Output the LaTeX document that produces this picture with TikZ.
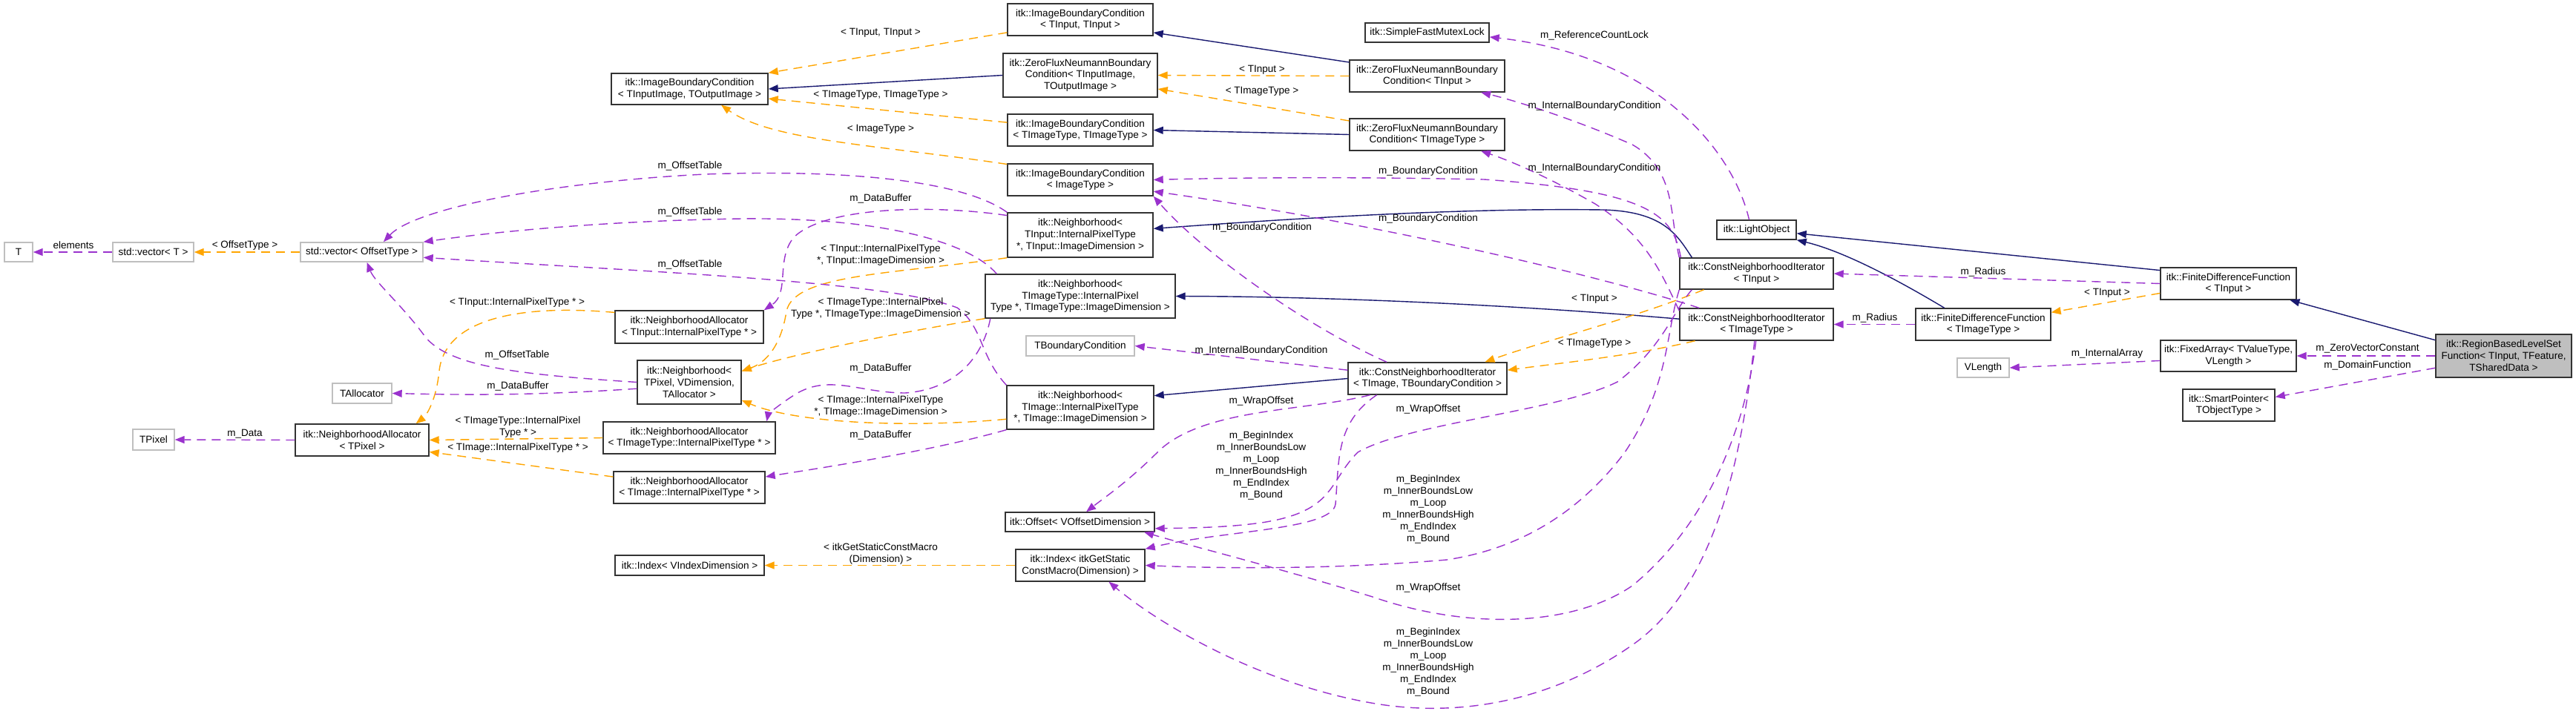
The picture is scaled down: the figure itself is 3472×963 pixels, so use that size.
\documentclass[tikz,border=0pt]{standalone}
\usepackage{fontspec}
\setmainfont{Liberation Sans}
\usetikzlibrary{arrows.meta}
\definecolor{inhcol}{HTML}{191970}
\definecolor{usecol}{HTML}{9A32CD}
\definecolor{tmplcol}{HTML}{FFA500}
\definecolor{boxgray}{HTML}{BFBFBF}
\newcommand{\dxfont}{\fontsize{7.7}{9.1}\selectfont}
\newcommand{\idxmembers}{m\_BeginIndex\\m\_InnerBoundsLow\\m\_Loop\\m\_InnerBoundsHigh\\m\_EndIndex\\m\_Bound}
\tikzset{
  wd/.style={minimum width=#1*0.02cm},
  ht/.style={minimum height=#1*0.02cm},
  cls/.style={draw=black!80, fill=white, line width=0.8pt, align=center, inner sep=1.5pt, font=\dxfont},
  ghost/.style={cls, draw=boxgray},
  mainbox/.style={cls, fill=boxgray},
  lab/.style={align=center, inner sep=0pt, font=\dxfont},
  conn/.style={line width=0.8pt, -{Triangle[length=0.26cm,width=0.2cm]}},
  inhln/.style={conn, draw=inhcol},
  useln/.style={conn, draw=usecol, dash pattern=on 0.24cm off 0.16cm},
  tmplln/.style={conn, draw=tmplcol, dash pattern=on 0.24cm off 0.16cm},
}
\begin{document}
\begin{tikzpicture}[x=0.02cm,y=-0.02cm]
\useasboundingbox (0,0) rectangle (3472,963);

% left part
\node[ghost, wd=38, ht=26] (tT) at (25,340) {T};
\node[ghost, wd=109, ht=26] (vecT) at (206.5,340) {std::vector< T >};
\node[ghost, wd=165, ht=26] (vecO) at (487.5,340) {std::vector< OffsetType >};
\node[ghost, wd=80, ht=27] (talloc) at (488,530.5) {TAllocator};
\node[ghost, wd=56, ht=28] (tpix) at (207,593) {TPixel};
\node[cls, wd=180, ht=43] (naP) at (488,593.5) {itk::NeighborhoodAllocator\\< TPixel >};
\node[cls, wd=211, ht=42] (ibcIO) at (929.5,120) {itk::ImageBoundaryCondition\\< TInputImage, TOutputImage >};
\node[cls, wd=200, ht=44] (naIn) at (929,441) {itk::NeighborhoodAllocator\\< TInput::InternalPixelType * >};
\node[cls, wd=140, ht=59] (nbP) at (929,515.5) {itk::Neighborhood<\\ TPixel, VDimension,\\ TAllocator >};
\node[cls, wd=232, ht=43] (naTy) at (929,590.5) {itk::NeighborhoodAllocator\\< TImageType::InternalPixelType * >};
\node[cls, wd=204, ht=43] (naIm) at (929,657.5) {itk::NeighborhoodAllocator\\< TImage::InternalPixelType * >};
\node[cls, wd=201, ht=27] (idxV) at (929.5,762.5) {itk::Index< VIndexDimension >};

% middle column
\node[cls, wd=196, ht=43] (ibcTT) at (1456,26.5) {itk::ImageBoundaryCondition\\< TInput, TInput >};
\node[cls, wd=208, ht=59] (zfnIO) at (1456,101.5) {itk::ZeroFluxNeumannBoundary\\Condition< TInputImage,\\ TOutputImage >};
\node[cls, wd=196, ht=43] (ibcTTy) at (1456,175.5) {itk::ImageBoundaryCondition\\< TImageType, TImageType >};
\node[cls, wd=196, ht=43] (ibcI) at (1456,242.5) {itk::ImageBoundaryCondition\\< ImageType >};
\node[cls, wd=196, ht=60] (nbIn) at (1456,317) {itk::Neighborhood<\\ TInput::InternalPixelType\\ *, TInput::ImageDimension >};
\node[cls, wd=256, ht=59] (nbTy) at (1456,399.5) {itk::Neighborhood<\\ TImageType::InternalPixel\\Type *, TImageType::ImageDimension >};
\node[ghost, wd=146, ht=27] (tbc) at (1456,466.5) {TBoundaryCondition};
\node[cls, wd=198, ht=59] (nbIm) at (1456,549.5) {itk::Neighborhood<\\ TImage::InternalPixelType\\ *, TImage::ImageDimension >};
\node[cls, wd=201, ht=26] (off) at (1455.5,704) {itk::Offset< VOffsetDimension >};
\node[cls, wd=174, ht=43] (idxM) at (1456,762.5) {itk::Index< itkGetStatic\\ConstMacro(Dimension) >};

% right part
\node[cls, wd=167, ht=26] (mutex) at (1923.5,44) {itk::SimpleFastMutexLock};
\node[cls, wd=209, ht=43] (zfnT) at (1923.5,102.5) {itk::ZeroFluxNeumannBoundary\\Condition< TInput >};
\node[cls, wd=209, ht=43] (zfnTy) at (1923.5,181.5) {itk::ZeroFluxNeumannBoundary\\Condition< TImageType >};
\node[cls, wd=214, ht=43] (cniIB) at (1924,510.5) {itk::ConstNeighborhoodIterator\\< TImage, TBoundaryCondition >};
\node[cls, wd=107, ht=26] (light) at (2367.5,310) {itk::LightObject};
\node[cls, wd=207, ht=42] (cniIn) at (2367.5,369) {itk::ConstNeighborhoodIterator\\< TInput >};
\node[cls, wd=207, ht=43] (cniTy) at (2367.5,437.5) {itk::ConstNeighborhoodIterator\\< TImageType >};
\node[cls, wd=182, ht=43] (fdfTy) at (2673,437.5) {itk::FiniteDifferenceFunction\\< TImageType >};
\node[ghost, wd=70, ht=26] (vlen) at (2673,496) {VLength};
\node[cls, wd=183, ht=43] (fdfIn) at (3003.5,382.5) {itk::FiniteDifferenceFunction\\< TInput >};
\node[cls, wd=183, ht=42] (farr) at (3003.5,480) {itk::FixedArray< TValueType,\\ VLength >};
\node[cls, wd=124, ht=43] (sptr) at (3004,546.5) {itk::SmartPointer<\\ TObjectType >};
\node[mainbox, wd=183, ht=58] (rbl) at (3374.5,480) {itk::RegionBasedLevelSet\\Function< TInput, TFeature,\\ TSharedData >};

% inheritance
\draw[inhln] (zfnIO.west) -- (ibcIO.east);
\draw[inhln] (zfnT.170) -- (ibcTT.-10);
\draw[inhln] (zfnTy.west) -- (ibcTTy.east);
\draw[inhln] (cniIn.166) .. controls (2262,320) and (2245,285) .. (2160,283) .. controls (1950,280) and (1700,298) .. (nbIn.5);
\draw[inhln] (cniTy.176) .. controls (2050,412) and (1800,400) .. (nbTy.east);
\draw[inhln] (cniIB.west) -- (nbIm.9);
\draw[inhln] (fdfIn.169) -- (light.-5);
\draw[inhln] (fdfTy.157) .. controls (2570,385) and (2490,340) .. (light.south east);
\draw[inhln] (rbl.167) -- (fdfIn.-15);

% template instances
\draw[tmplln] (ibcTT.190) -- (ibcIO.north east);
\draw[tmplln] (ibcTTy.174) -- (ibcIO.-7);
\draw[tmplln] (ibcI.168) .. controls (1180,195) and (1040,190) .. (ibcIO.-27);
\draw[tmplln] (zfnT.west) -- (zfnIO.east);
\draw[tmplln] (zfnTy.170) -- (zfnIO.-10);
\draw[tmplln] (nbIn.south west) .. controls (1200,370) and (1070,370) .. (1060,420) .. controls (1052,470) and (1030,490) .. (nbP.12);
\draw[tmplln] (nbTy.south west) .. controls (1200,450) and (1060,480) .. (nbP.12);
\draw[tmplln] (nbIm.189) .. controls (1220,578) and (1070,570) .. (nbP.-19);
\draw[tmplln] (naIn.169) .. controls (700,410) and (600,430) .. (592,500) .. controls (588,540) and (575,560) .. (naP.17);
\draw[tmplln] (naTy.west) -- (naP.east);
\draw[tmplln] (naIm.172) -- (naP.-10);
\draw[tmplln] (vecO.west) -- (vecT.east);
\draw[tmplln] (idxM.west) -- (idxV.east);
\draw[tmplln] (cniIn.-163) .. controls (2200,430) and (2080,460) .. (cniIB.16);
\draw[tmplln] (cniTy.-165) .. controls (2200,480) and (2100,490) .. (cniIB.6);
\draw[tmplln] (fdfIn.188) -- (fdfTy.10);

% members
\draw[useln] (vecT.west) -- (tT.east);
\draw[useln] (naP.west) -- (tpix.east);
\draw[useln] (nbP.west) .. controls (700,505) and (600,495) .. (570,450) .. controls (540,410) and (505,380) .. (vecO.-63);
\draw[useln] (nbP.187) .. controls (700,535) and (600,532) .. (talloc.east);
\draw[useln] (nbIn.north west) .. controls (1300,245) and (1150,228) .. (950,235) .. controls (750,245) and (560,280) .. (vecO.25);
\draw[useln] (nbTy.165) .. controls (1310,330) and (1200,293) .. (1000,295) .. controls (800,298) and (650,315) .. (vecO.north east);
\draw[useln] (nbIm.north west) .. controls (1320,480) and (1325,440) .. (1290,415) .. controls (1200,380) and (900,368) .. (vecO.-5);
\draw[useln] (nbIn.165) .. controls (1250,275) and (1110,280) .. (1070,320) .. controls (1045,350) and (1065,395) .. (naIn.north east);
\draw[useln] (nbTy.194) .. controls (1325,480) and (1290,525) .. (1220,530) .. controls (1160,530) and (1120,505) .. (1075,530) .. controls (1050,545) and (1035,560) .. (naTy.12);
\draw[useln] (nbIm.south west) .. controls (1250,610) and (1100,632) .. (naIm.8);
\draw[useln] (light.126) .. controls (2335,200) and (2230,75) .. (mutex.-4);
\draw[useln] (cniIn.north west) .. controls (2250,290) and (2260,230) .. (2200,195) .. controls (2120,160) and (2040,135) .. (zfnT.-17);
\draw[useln] (cniTy.170) .. controls (2240,370) and (2220,320) .. (2150,275) .. controls (2080,235) and (2030,215) .. (zfnTy.-17);
\draw[useln] (cniIn.168) .. controls (2255,290) and (2225,258) .. (2000,242) .. controls (1800,238) and (1650,240) .. (ibcI.east);
\draw[useln] (cniTy.164) .. controls (2150,370) and (1850,300) .. (ibcI.-9);
\draw[useln] (cniIB.158) .. controls (1760,440) and (1620,340) .. (ibcI.south east);
\draw[useln] (cniIB.174) -- (tbc.east);
\draw[useln] (cniIB.196) .. controls (1760,555) and (1620,550) .. (1560,610) .. controls (1520,650) and (1490,670) .. (off.58);
\draw[useln] (cniIB.198) .. controls (1800,570) and (1805,620) .. (1800,680) .. controls (1795,715) and (1650,715) .. (idxM.north east);
\draw[useln] (cniIn.-166) .. controls (2255,420) and (2240,470) .. (2180,515) .. controls (2100,555) and (1900,570) .. (1830,610) .. controls (1790,650) and (1800,690) .. (1700,705) .. controls (1650,712) and (1600,712) .. (off.-5);
\draw[useln] (cniIn.south west) .. controls (2245,450) and (2250,520) .. (2190,610) .. controls (2130,690) and (2050,740) .. (1950,755) .. controls (1800,768) and (1650,767) .. (idxM.east);
\draw[useln] (cniTy.-92) .. controls (2355,560) and (2310,700) .. (2200,790) .. controls (2120,845) and (1980,850) .. (1850,805) .. controls (1720,765) and (1600,735) .. (off.-9);
\draw[useln] (cniTy.-97) .. controls (2345,650) and (2300,800) .. (2200,870) .. controls (2100,940) and (1980,968) .. (1860,950) .. controls (1700,925) and (1560,840) .. (idxM.-30);
\draw[useln] (fdfIn.west) -- (cniIn.east);
\draw[useln] (fdfTy.west) -- (cniTy.east);
\draw[useln] (farr.184) -- (vlen.east);
\draw[useln] (rbl.west) -- (farr.east);
\draw[useln] (rbl.190) -- (sptr.10);

% labels
\node[lab] (l1) at (1187,44) {< TInput, TInput >};
\node[lab] (l2) at (1187,128) {< TImageType, TImageType >};
\node[lab] (l3) at (1187,174) {< ImageType >};
\node[lab] (l4) at (1701,94) {< TInput >};
\node[lab] (l5) at (1701,123) {< TImageType >};
\node[lab] (l6) at (2149,48) {m\_ReferenceCountLock};
\node[lab] (l7) at (2149,143) {m\_InternalBoundaryCondition};
\node[lab] (l8) at (2149,227) {m\_InternalBoundaryCondition};
\node[lab] (l9) at (1925,231) {m\_BoundaryCondition};
\node[lab] (l10) at (1925,295) {m\_BoundaryCondition};
\node[lab] (l11) at (1701,307) {m\_BoundaryCondition};
\node[lab] (l12) at (930,224) {m\_OffsetTable};
\node[lab] (l13) at (930,286) {m\_OffsetTable};
\node[lab] (l14) at (930,357) {m\_OffsetTable};
\node[lab] (l15) at (1187,268) {m\_DataBuffer};
\node[lab] (l16) at (1187,344) {< TInput::InternalPixelType\\ *, TInput::ImageDimension >};
\node[lab] (l17) at (1187,416) {< TImageType::InternalPixel\\Type *, TImageType::ImageDimension >};
\node[lab] (l18) at (2149,403) {< TInput >};
\node[lab] (l19) at (2149,463) {< TImageType >};
\node[lab] (l20) at (2527,429) {m\_Radius};
\node[lab] (l21) at (2673,367) {m\_Radius};
\node[lab] (l22) at (2840,395) {< TInput >};
\node[lab] (l23) at (2840,477) {m\_InternalArray};
\node[lab] (l24) at (3191,470) {m\_ZeroVectorConstant};
\node[lab] (l25) at (3191,493) {m\_DomainFunction};
\node[lab] (l26) at (1700,473) {m\_InternalBoundaryCondition};
\node[lab] (l27) at (1187,497) {m\_DataBuffer};
\node[lab] (l28) at (1187,548) {< TImage::InternalPixelType\\ *, TImage::ImageDimension >};
\node[lab] (l29) at (1187,587) {m\_DataBuffer};
\node[lab] (l30) at (1700,541) {m\_WrapOffset};
\node[lab] (l31) at (1700,628) {\idxmembers};
\node[lab] (l32) at (1925,552) {m\_WrapOffset};
\node[lab] (l33) at (1925,687) {\idxmembers};
\node[lab] (l34) at (1925,793) {m\_WrapOffset};
\node[lab] (l35) at (1925,893) {\idxmembers};
\node[lab] (l36) at (1187,747) {< itkGetStaticConstMacro\\(Dimension) >};
\node[lab] (l37) at (99,331) {elements};
\node[lab] (l38) at (330,331) {< OffsetType >};
\node[lab] (l39) at (697,408) {< TInput::InternalPixelType * >};
\node[lab] (l40) at (697,479) {m\_OffsetTable};
\node[lab] (l41) at (698,521) {m\_DataBuffer};
\node[lab] (l42) at (330,585) {m\_Data};
\node[lab] (l43) at (698,576) {< TImageType::InternalPixel\\Type * >};
\node[lab] (l44) at (698,604) {< TImage::InternalPixelType * >};
\end{tikzpicture}
\end{document}
